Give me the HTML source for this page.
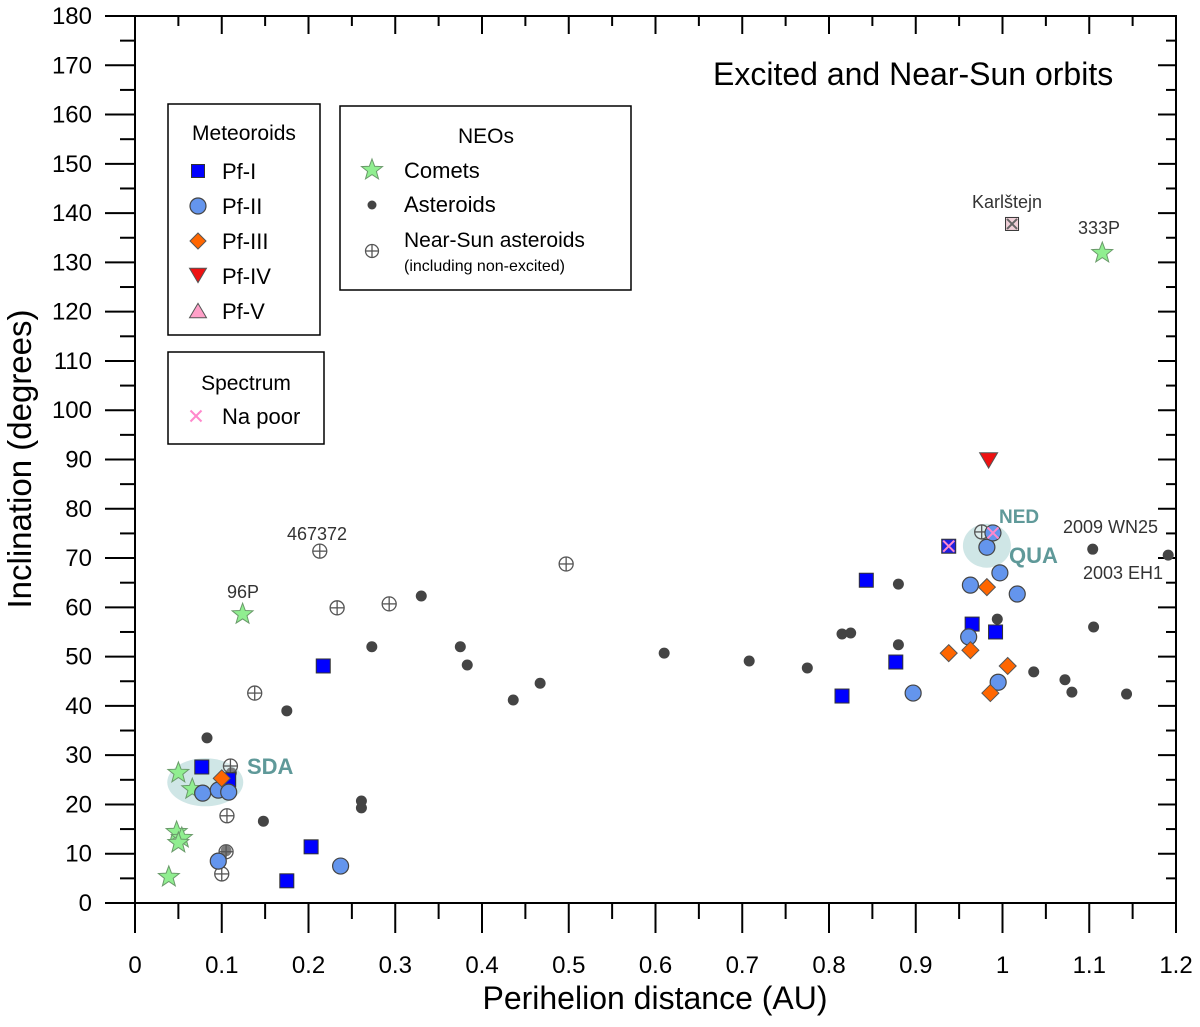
<!DOCTYPE html>
<html><head><meta charset="utf-8"><style>
body{margin:0;background:#fff}
svg text{font-family:"Liberation Sans",Arial,sans-serif}
</style></head><body>
<svg id="chart" width="1200" height="1022" xmlns="http://www.w3.org/2000/svg">
<g id="bg"></g>
<g id="axes"></g>
<g id="marks"></g>
<g id="labels"></g>
<g id="legend"></g>
</svg>
<script>
const xTicks=[0,0.1,0.2,0.3,0.4,0.5,0.6,0.7,0.8,0.9,1,1.1,1.2];
const yTicks=[0,10,20,30,40,50,60,70,80,90,100,110,120,130,140,150,160,170,180];
const pf1Q=[0.077,0.108,0.217,0.203,0.175,0.843,0.815,0.877,0.965,0.992];
const pf1I=[27.6,25,48.1,11.4,4.5,65.5,42,48.9,56.6,55];
const pf2Q=[0.078,0.096,0.108,0.096,0.237,0.982,0.997,0.963,1.017,0.961,0.995,0.897,0.989];
const pf2I=[22.3,22.9,22.5,8.5,7.5,72.2,67,64.5,62.7,54,44.8,42.6,75.1];
const pf3Q=[0.100,0.982,0.938,0.963,1.006,0.986];
const pf3I=[25.3,64.1,50.7,51.3,48.1,42.6];
const pf4Q=[0.984];
const pf4I=[89.9];
const cometQ=[0.050,0.066,0.048,0.054,0.050,0.039,0.124,1.115];
const cometI=[26.4,23.1,14.4,13.2,12.2,5.3,58.6,131.9];
const astQ=[0.083,0.111,0.105,0.148,0.175,0.261,0.261,0.273,0.330,0.375,0.383,0.436,0.467,0.610,0.708,0.775,0.815,0.825,0.880,0.880,0.994,1.036,1.104,1.105,1.072,1.080,1.143,1.191];
const astI=[33.5,26.4,10.6,16.6,39,20.7,19.3,52,62.3,52,48.3,41.2,44.6,50.7,49.1,47.7,54.6,54.8,64.7,52.4,57.6,46.9,71.8,56,45.3,42.8,42.4,70.6];
const nsQ=[0.110,0.106,0.105,0.100,0.138,0.213,0.233,0.293,0.497,0.976];
const nsI=[27.8,17.7,10.4,5.9,42.6,71.4,59.9,60.7,68.8,75.3];
const naQ=[0.938,0.989];
const naI=[72.4,75.1];
const karlQ=[1.011], karlI=[137.8];
const naSquareQ=[0.938], naSquareI=[72.4];

const X0=135,X1=1176,Y0=903,Y1=16;
const sx=q=>X0+(q-0)/(1.2)*(X1-X0);
const sy=i=>Y0-(i/180)*(Y0-Y1);
const NS="http://www.w3.org/2000/svg";
function mk(tag,attrs,parent){const e=document.createElementNS(NS,tag);for(const k in attrs)e.setAttribute(k,attrs[k]);if(parent)parent.appendChild(e);return e;}
const axes=document.getElementById('axes'),marks=document.getElementById('marks'),labels=document.getElementById('labels'),legend=document.getElementById('legend'),bg=document.getElementById('bg');

let e1=mk('ellipse',{cx:sx(0.081),cy:sy(24.5),rx:38,ry:24,fill:'#cfe6e6'},bg);


let e2=mk('ellipse',{cx:sx(0.982),cy:sy(72.5),rx:24,ry:22,fill:'#cfe6e6'},bg);



let fr=mk('rect',{x:X0,y:Y1,width:X1-X0,height:Y0-Y1,fill:'none',stroke:'#000','stroke-width':2},axes);


xTicks.forEach((t,k)=>{
  const x=sx(t);
  mk('line',{x1:x,y1:Y0,x2:x,y2:Y0+30,stroke:'#000','stroke-width':2},axes);
  mk('line',{x1:x,y1:Y1,x2:x,y2:Y1+18,stroke:'#000','stroke-width':2},axes);
  if(k<xTicks.length-1){const xm=sx(t+0.05);
    mk('line',{x1:xm,y1:Y0,x2:xm,y2:Y0+16,stroke:'#000','stroke-width':2},axes);
    mk('line',{x1:xm,y1:Y1,x2:xm,y2:Y1+10,stroke:'#000','stroke-width':2},axes);}
  const tx=mk('text',{x:x,y:973,'text-anchor':'middle','font-size':24,fill:'#000'},axes);
  tx.textContent=String(t);
  
  
});
yTicks.forEach((t,k)=>{
  const y=sy(t);
  mk('line',{x1:X0-30,y1:y,x2:X0,y2:y,stroke:'#000','stroke-width':2},axes);
  mk('line',{x1:X1-18,y1:y,x2:X1,y2:y,stroke:'#000','stroke-width':2},axes);
  if(k<yTicks.length-1){const ym=sy(t+5);
    mk('line',{x1:X0-15,y1:ym,x2:X0,y2:ym,stroke:'#000','stroke-width':2},axes);
    mk('line',{x1:X1-10,y1:ym,x2:X1,y2:ym,stroke:'#000','stroke-width':2},axes);}
  const tx=mk('text',{x:92,y:y+8,'text-anchor':'end','font-size':24,fill:'#000'},axes);
  tx.textContent=String(t);
  
  
});
let xt=mk('text',{x:655,y:1009,'text-anchor':'middle','font-size':32},axes);xt.textContent='Perihelion distance (AU)';


let yt=mk('text',{x:0,y:0,'text-anchor':'middle','font-size':33,transform:'translate(31,459) rotate(-90)'},axes);yt.textContent='Inclination (degrees)';



function square(g,x,y,s,fill){return mk('rect',{x:x-s/2,y:y-s/2,width:s,height:s,fill:fill,stroke:'#333','stroke-width':1},g);}
function circle(g,x,y,r,fill){return mk('circle',{cx:x,cy:y,r:r,fill:fill,stroke:'#444','stroke-width':1.2},g);}
function diamond(g,x,y,s,fill){return mk('polygon',{points:`${x},${y-s} ${x+s},${y} ${x},${y+s} ${x-s},${y}`,fill:fill,stroke:'#555','stroke-width':1},g);}
function tri(g,x,y,s,fill){return mk('polygon',{points:`${x-s},${y-s*0.8} ${x+s},${y-s*0.8} ${x},${y+s*0.9}`,fill:fill,stroke:'#555','stroke-width':1},g);}
function triUp(g,x,y,s,fill){return mk('polygon',{points:`${x-s},${y+s*0.8} ${x+s},${y+s*0.8} ${x},${y-s*0.9}`,fill:fill,stroke:'#555','stroke-width':1},g);}
function star(g,x,y,R,fill){let p=[];for(let k=0;k<10;k++){const r=k%2?R*0.42:R;const a=-Math.PI/2+k*Math.PI/5;p.push((x+r*Math.cos(a)).toFixed(1)+','+(y+r*Math.sin(a)).toFixed(1));}
  return mk('polygon',{points:p.join(' '),fill:fill,stroke:'#6a9a6a','stroke-width':1},g);}
function dot(g,x,y,r){return mk('circle',{cx:x,cy:y,r:r,fill:'#444'},g);}
function cplus(g,x,y,r){const gg=mk('g',{},g);mk('circle',{cx:x,cy:y,r:r,fill:'#fff','fill-opacity':0.3,stroke:'#555','stroke-width':1.3},gg);
  mk('line',{x1:x-r,y1:y,x2:x+r,y2:y,stroke:'#555','stroke-width':1.3},gg);mk('line',{x1:x,y1:y-r,x2:x,y2:y+r,stroke:'#555','stroke-width':1.3},gg);return gg;}
function cross(g,x,y,s,col){const gg=mk('g',{},g);mk('line',{x1:x-s,y1:y-s,x2:x+s,y2:y+s,stroke:col,'stroke-width':2},gg);mk('line',{x1:x-s,y1:y+s,x2:x+s,y2:y-s,stroke:col,'stroke-width':2},gg);return gg;}

astQ.forEach((q,k)=>{const m=dot(marks,sx(q),sy(astI[k]),5.5);
  
  });
nsQ.forEach((q,k)=>{const m=cplus(marks,sx(q),sy(nsI[k]),7);
  
  });
cometQ.forEach((q,k)=>{const m=star(marks,sx(q),sy(cometI[k]),11,'#90ee90');
  
  });
pf1Q.forEach((q,k)=>{const m=square(marks,sx(q),sy(pf1I[k]),14,'#0000ff');
  
  });
naSquareQ.forEach((q,k)=>{const m=square(marks,sx(q),sy(naSquareI[k]),14,'#2020e0');
  
  });
pf2Q.forEach((q,k)=>{const m=circle(marks,sx(q),sy(pf2I[k]),8,'#6495ed');
  
  });
pf3Q.forEach((q,k)=>{const m=diamond(marks,sx(q),sy(pf3I[k]),8.5,'#ff6600');
  
  });
pf4Q.forEach((q,k)=>{const m=tri(marks,sx(q),sy(pf4I[k]),9,'#ee1111');
  
  });
naQ.forEach((q,k)=>{const m=cross(marks,sx(q),sy(naI[k]),5.5,'#ff88cc');
  
  });
karlQ.forEach((q,k)=>{const g=mk('g',{},marks);square(g,sx(q),sy(karlI[k]),13,'#f0d0d8');cross(g,sx(q),sy(karlI[k]),5,'#666');
  
  });

function lbl(x,y,t,size,col,bold,name){const e=mk('text',{x:x,y:y,'font-size':size,fill:col,'font-weight':bold?'bold':'normal'},labels);e.textContent=t;
  
  return e;}
lbl(247,774,'SDA',22,'#5f9999',true,'sda-label');
lbl(999,523,'NED',19,'#5f9999',true,'ned-label');
lbl(1009,563,'QUA',22,'#5f9999',true,'qua-label');
lbl(1063,533,'2009 WN25',18,'#333',false,'label-2009wn25');
lbl(1083,579,'2003 EH1',18,'#333',false,'label-2003eh1');
lbl(972,208,'Karlštejn',18,'#333',false,'label-karlstejn');
lbl(1078,234,'333P',18,'#333',false,'label-333p');
lbl(227,598,'96P',18,'#333',false,'label-96p');
lbl(287,540,'467372',18,'#333',false,'label-467372');
lbl(713,85,'Excited and Near-Sun orbits',32,'#000',false,'chart-title');

function box(x,y,w,h,name){const r=mk('rect',{x:x,y:y,width:w,height:h,fill:'#fff',stroke:'#000','stroke-width':1.5},legend);
  
  }
function ltxt(x,y,t,s,anchor){const e=mk('text',{x:x,y:y,'font-size':s||22,'text-anchor':anchor||'start'},legend);e.textContent=t;
  
  return e;}
box(168,104,152,231,'meteoroids-legend');
ltxt(244,140,'Meteoroids',21,'middle');
square(legend,198,171,13,'#0000ff');ltxt(222,179,'Pf-I');
circle(legend,198,206,8,'#6495ed');ltxt(222,214,'Pf-II');
diamond(legend,198,241,8,'#ff6600');ltxt(222,249,'Pf-III');
tri(legend,198,275,8.5,'#ee1111');ltxt(222,284,'Pf-IV');
triUp(legend,198,311,8.5,'#ffa0c8');ltxt(222,319,'Pf-V');
box(168,352,156,92,'spectrum-legend');
ltxt(246,390,'Spectrum',21,'middle');
cross(legend,196,416,5.5,'#ff88cc');ltxt(222,424,'Na poor');
box(340,106,291,184,'neos-legend');
ltxt(486,143,'NEOs',21,'middle');
star(legend,372,170,11,'#90ee90');ltxt(404,178,'Comets');
dot(legend,372,205,4.5);ltxt(404,212,'Asteroids');
cplus(legend,372,251,6.5);ltxt(404,247,'Near-Sun asteroids',21);
ltxt(404,271,'(including non-excited)',16);
</script>
</body></html>
